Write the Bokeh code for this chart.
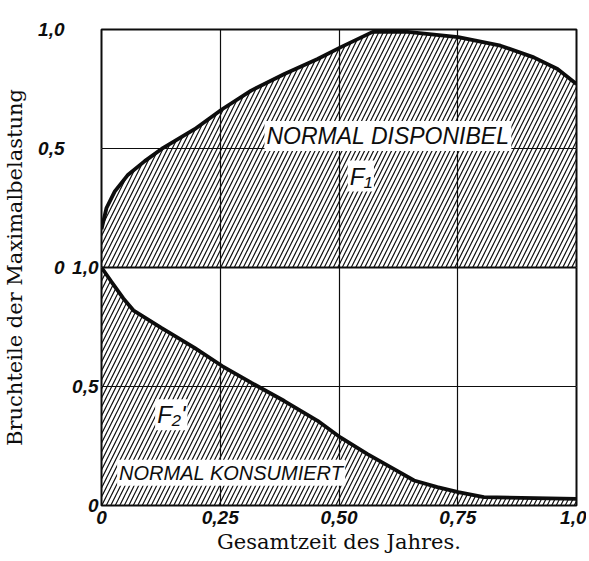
from bokeh.plotting import figure
from bokeh.models import Range1d, LinearAxis, FixedTicker, Grid, Label, Span
from bokeh.embed import file_html
from bokeh.resources import INLINE

# --- data ---
# upper panel: "NORMAL DISPONIBEL" curve (F1)
f1_x = [0.0, 0.0105, 0.028, 0.056, 0.091, 0.13, 0.196, 0.254, 0.315, 0.385,
        0.455, 0.503, 0.571, 0.644, 0.751, 0.84, 0.91, 0.96, 1.0]
f1_y = [0.16, 0.25, 0.32, 0.39, 0.447, 0.503, 0.581, 0.665, 0.743, 0.813,
        0.876, 0.925, 0.99, 0.99, 0.968, 0.932, 0.883, 0.834, 0.771]
# lower panel: "NORMAL KONSUMIERT" curve (F2')
f2_x = [0.0, 0.021, 0.046, 0.067, 0.126, 0.196, 0.254, 0.315, 0.385, 0.455,
        0.503, 0.56, 0.616, 0.658, 0.707, 0.751, 0.805, 1.0]
f2_y = [1.0, 0.94, 0.87, 0.82, 0.746, 0.662, 0.586, 0.516, 0.439, 0.356,
        0.286, 0.216, 0.153, 0.105, 0.077, 0.056, 0.035, 0.028]

x_ticks = [0, 0.25, 0.5, 0.75, 1.0]
x_tick_labels = ["0", "0,25", "0,50", "0,75", "1,0"]
y_ticks = [0, 0.5, 1.0]
y_tick_labels = ["0", "0,5", "1,0"]

x_title = "Gesamtzeit des Jahres."
y_title = "Bruchteile der Maximalbelastung"

INK = "#0d0d0d"
TICK_FONT = "Liberation Sans"
TITLE_FONT = "DejaVu Serif"

p = figure(width=586, height=560, output_backend="svg", toolbar_location=None,
           x_range=Range1d(0, 1), y_range=Range1d(-1, 1),
           y_axis_location=None,
           min_border_left=100, min_border_right=10, min_border_top=29,
           min_border_bottom=55)
p.extra_y_ranges = {"bottom": Range1d(0, 2)}
p.background_fill_color = "white"
p.border_fill_color = "white"
p.outline_line_color = INK
p.outline_line_width = 2

# x axis
xa = p.xaxis[0]
xa.ticker = FixedTicker(ticks=x_ticks)
xa.major_label_overrides = dict(zip(x_ticks, x_tick_labels))
xa.axis_line_color = None
xa.major_tick_line_color = None
xa.minor_tick_line_color = None
xa.major_tick_out = 0
xa.major_tick_in = 0
xa.major_label_standoff = 5
xa.major_label_text_font = TICK_FONT
xa.major_label_text_font_style = "bold italic"
xa.major_label_text_font_size = "19px"
xa.major_label_text_color = INK
xa.axis_label = x_title
xa.axis_label_text_font = TITLE_FONT
xa.axis_label_text_font_style = "normal"
xa.axis_label_text_font_size = "21px"
xa.axis_label_text_color = INK
xa.axis_label_standoff = 3

def y_axis(range_name, standoff):
    ax = LinearAxis(y_range_name=range_name, ticker=FixedTicker(ticks=y_ticks),
                    major_label_overrides=dict(zip(y_ticks, y_tick_labels)))
    ax.axis_line_color = None
    ax.major_tick_line_color = None
    ax.minor_tick_line_color = None
    ax.major_tick_out = 0
    ax.major_tick_in = 0
    ax.major_label_standoff = standoff
    ax.major_label_text_font = TICK_FONT
    ax.major_label_text_font_style = "bold italic"
    ax.major_label_text_font_size = "19px"
    ax.major_label_text_color = INK
    return ax

inner = y_axis("bottom", 3)
outer = y_axis("default", 5)
outer.axis_label = y_title
outer.axis_label_text_font = TITLE_FONT
outer.axis_label_text_font_style = "normal"
outer.axis_label_text_font_size = "21px"
outer.axis_label_text_color = INK
outer.axis_label_standoff = 8
p.add_layout(inner, "left")
p.add_layout(outer, "left")

# grids
p.xgrid.ticker = FixedTicker(ticks=[0.25, 0.5, 0.75])
p.xgrid.grid_line_color = INK
p.xgrid.grid_line_width = 1.2
for rn in ("default", "bottom"):
    g = Grid(dimension=1, ticker=FixedTicker(ticks=[0.5]), y_range_name=rn,
             grid_line_color=INK, grid_line_width=1.2)
    p.add_layout(g)

# hatched areas
p.varea(x=f1_x, y1=0, y2=f1_y, fill_alpha=0, hatch_pattern="/",
        hatch_color=INK, hatch_weight=1.2, hatch_scale=9)
p.varea(x=f2_x, y1=0, y2=f2_y, fill_alpha=0, hatch_pattern="/",
        hatch_color=INK, hatch_weight=1.2, hatch_scale=9, y_range_name="bottom")

# middle separating line
p.add_layout(Span(location=0, dimension="width", line_color=INK, line_width=2.2))

# curves
p.line(f1_x, f1_y, line_color=INK, line_width=3.8)
p.line(f2_x, f2_y, line_color=INK, line_width=3.8, y_range_name="bottom")

# labels with white boxes
def lab(x, y, text, size, rn="default"):
    p.add_layout(Label(x=x, y=y, text=text, y_range_name=rn,
                       text_align="center", text_baseline="middle",
                       text_font="Liberation Sans", text_font_style="italic",
                       text_font_size=size, text_color=INK,
                       background_fill_color="white", padding=2))

lab(0.603, 0.553, "NORMAL DISPONIBEL", "23px")
lab(0.546, 0.384, "F\u2081", "24px")
lab(0.147, 0.381, "F\u2082'", "24px", "bottom")
lab(0.273, 0.138, "NORMAL KONSUMIERT", "20px", "bottom")

open("out.html", "w").write(file_html(p, INLINE))
